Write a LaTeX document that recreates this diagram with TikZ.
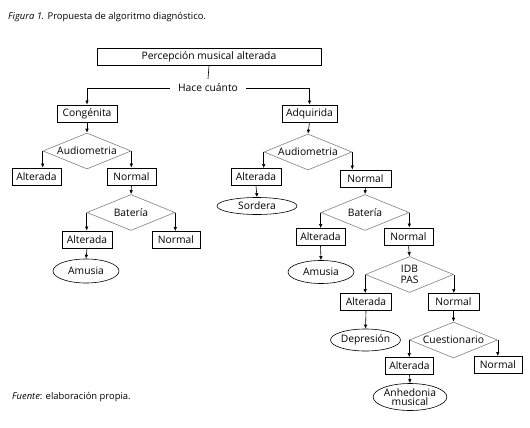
\documentclass[tikz,border=0pt]{standalone}
\usepackage{fontspec}
\setmainfont{Open Sans}
\usetikzlibrary{shapes.geometric,arrows.meta}
\begin{document}
\begin{tikzpicture}[x=1pt,y=-1pt,
  font=\fontsize{10.3}{11}\selectfont,
  box/.style={draw=black,line width=0.8pt,minimum height=17pt,inner sep=0pt},
  dia/.style={diamond,draw=black!50,line width=0.6pt,aspect=2.4,inner sep=0pt,minimum width=88pt,minimum height=36pt},
  oval/.style={ellipse,draw=black,line width=0.6pt,inner sep=0pt},
  arr/.style={-{Latex[length=4pt,width=3.5pt]},line width=0.6pt},
  ln/.style={line width=0.6pt}]
\useasboundingbox (0,0) rectangle (530,428);
\node[anchor=base west,inner sep=0pt,font=\fontsize{9.4}{10}\selectfont] (cap) at (8,20) {\textit{Figura 1.} Propuesta de algoritmo diagnóstico.};
\node[anchor=base west,inner sep=0pt,font=\fontsize{9.4}{10}\selectfont] (fte) at (12,399) {\textit{Fuente}: elaboración propia.};

\node[box,minimum width=224pt] (top) at (209,57) {Percepción musical alterada};
\node[inner xsep=8pt,inner ysep=5pt] (hace) at (208,88) {Hace cuánto};
\node[box,minimum width=60pt] (cong) at (87,113.5) {Congénita};
\node[box,minimum width=55pt] (adq) at (309.5,113.5) {Adquirida};

% left branch
\node[dia] (d1) at (87,151) {Audiometria};
\node[box,minimum width=49pt] (a1) at (36.5,176.5) {Alterada};
\node[box,minimum width=49pt] (n1) at (131.5,176.5) {Normal};
\node[dia] (d2) at (131,212.5) {Batería};
\node[box,minimum width=50pt] (a2) at (87,239.5) {Alterada};
\node[box,minimum width=48pt] (n2) at (176,240) {Normal};
\node[oval,minimum width=66pt,minimum height=24pt] (am1) at (86,271) {Amusia};

% right branch
\node[dia] (d3) at (308,152) {Audiometria};
\node[box,minimum width=50pt] (a3) at (256,177) {Alterada};
\node[box,minimum width=51pt] (n3) at (365.5,178.5) {Normal};
\node[oval,minimum width=80pt,minimum height=17pt] (sor) at (257,206) {Sordera};
\node[dia] (d4) at (365,212.5) {Batería};
\node[box,minimum width=49pt] (a4) at (320.5,237) {Alterada};
\node[box,minimum width=49pt] (n4) at (408.5,236.5) {Normal};
\node[oval,minimum width=66pt,minimum height=23pt] (am2) at (321,272) {Amusia};
\node[dia,align=center,font=\fontsize{10.3}{10.5}\selectfont] (d5) at (409.5,274.5) {IDB\\PAS};
\node[box,minimum width=51pt] (a5) at (366,302) {Alterada};
\node[box,minimum width=51pt] (n5) at (453.5,302) {Normal};
\node[oval,minimum width=67pt,minimum height=22pt] (dep) at (365.5,340) {Depresión};
\node[dia] (d6) at (453.5,340) {Cuestionario};
\node[box,minimum width=48pt] (a6) at (409.5,366) {Alterada};
\node[box,minimum width=48pt] (n6) at (498,365) {Normal};
\node[oval,minimum width=66pt,minimum height=27pt,align=center,font=\fontsize{10.3}{9.5}\selectfont] (anh) at (410,397) {Anhedonia\\musical};

% connectors
\draw[ln] (top.south) -- (hace.north);
\draw[arr] (hace.west) -| (cong.north);
\draw[arr] (hace.east) -| (adq.north);
\draw[arr] (cong.south) -- (d1.north);
\draw[arr] (d1.west) -- (d1.west |- a1.north);
\draw[arr] (d1.east) -- (d1.east |- n1.north);
\draw[arr] (n1.south) -- (d2.north);
\draw[arr] (d2.west) -- (d2.west |- a2.north);
\draw[arr] (d2.east) -- (d2.east |- n2.north);
\draw[arr] (a2.south) -- (am1.north);

\draw[arr] (adq.south) -- (d3.north);
\draw[arr] (d3.west) -- (d3.west |- a3.north);
\draw[arr] (d3.east) -- (d3.east |- n3.north);
\draw[arr] (a3.south) -- (sor.north);
\draw[arr] (n3.south) -- (d4.north);
\draw[arr] (d4.west) -- (d4.west |- a4.north);
\draw[arr] (d4.east) -- (d4.east |- n4.north);
\draw[arr] (a4.south) -- (am2.north);
\draw[arr] (n4.south) -- (d5.north);
\draw[arr] (d5.west) -- (d5.west |- a5.north);
\draw[arr] (d5.east) -- (d5.east |- n5.north);
\draw[arr] (a5.south) -- (dep.north);
\draw[arr] (n5.south) -- (d6.north);
\draw[arr] (d6.west) -- (d6.west |- a6.north);
\draw[arr] (d6.east) -- (d6.east |- n6.north);
\draw[arr] (a6.south) -- (anh.north);
\end{tikzpicture}
\end{document}
